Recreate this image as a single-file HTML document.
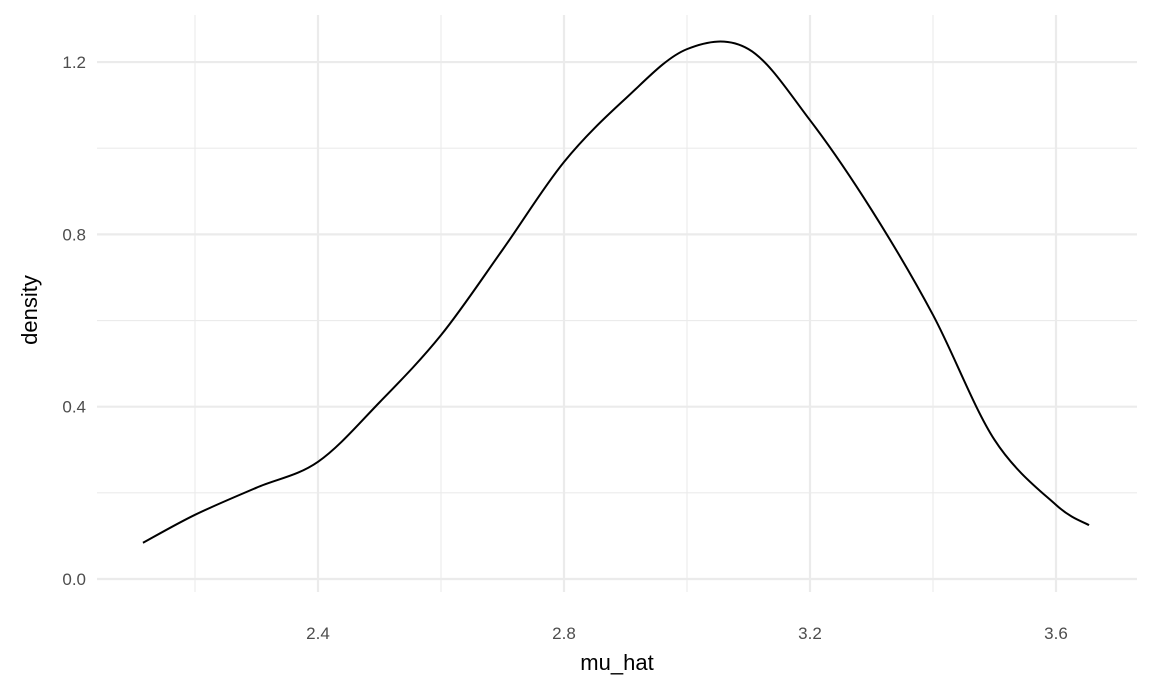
<!DOCTYPE html>
<html><head><meta charset="utf-8">
<style>
html,body{margin:0;padding:0;background:#fff;}
svg{display:block;font-family:"Liberation Sans",Arial,sans-serif;}
</style></head>
<body>
<svg id="chart" width="1152" height="691">
<g id="grid"></g>
<g id="ticks"></g>
<path id="curve" fill="none" stroke="#000" stroke-width="2"></path>
<text x="617" y="670" text-anchor="middle" font-size="22" fill="#000">mu_hat</text>
<text transform="translate(37,310) rotate(-90)" text-anchor="middle" font-size="22" fill="#000">density</text>
</svg>
<script>
const muHat = [2.1154, 2.2, 2.3, 2.4, 2.5, 2.6, 2.7, 2.8, 2.9, 3.0, 3.1, 3.2, 3.3, 3.4, 3.5, 3.6, 3.6537];
const density = [0.084, 0.149, 0.212, 0.272, 0.41, 0.566, 0.764, 0.968, 1.115, 1.23, 1.23, 1.065, 0.857, 0.613, 0.323, 0.172, 0.125];
const xTicks = [2.4, 2.8, 3.2, 3.6];
const xMinor = [2.2, 2.6, 3.0, 3.4];
const yTicks = [0.0, 0.4, 0.8, 1.2];
const yMinor = [0.2, 0.6, 1.0];
const xTickLabels = ["2.4", "2.8", "3.2", "3.6"];
const yTickLabels = ["0.0", "0.4", "0.8", "1.2"];

const X = v => 318 + (v - 2.4) * 615;
const Y = v => 579 - v * 430.8;
const L = 97, R = 1137, T = 15, B = 592;
const ns = "http://www.w3.org/2000/svg";
const grid = document.getElementById('grid');
const ticks = document.getElementById('ticks');
function line(x1,y1,x2,y2,w,name){
  const l=document.createElementNS(ns,'line');
  l.setAttribute('x1',x1);l.setAttribute('y1',y1);l.setAttribute('x2',x2);l.setAttribute('y2',y2);
  l.setAttribute('stroke','#ebebeb');l.setAttribute('stroke-width',w);
  
  
  grid.appendChild(l);
}
xMinor.forEach(v=>line(X(v),T,X(v),B,1.1,'x-minor-gridline'));
yMinor.forEach(v=>line(L,Y(v),R,Y(v),1.1,'y-minor-gridline'));
xTicks.forEach(v=>line(X(v),T,X(v),B,2.2,'x-major-gridline'));
yTicks.forEach(v=>line(L,Y(v),R,Y(v),2.2,'y-major-gridline'));
function label(x,y,txt,anchor,name){
  const t=document.createElementNS(ns,'text');
  t.setAttribute('x',x);t.setAttribute('y',y);t.setAttribute('text-anchor',anchor);
  t.setAttribute('font-size','17');t.setAttribute('fill','#4d4d4d');
  t.textContent=txt;
  
  
  ticks.appendChild(t);
}
xTicks.forEach((v,i)=>label(X(v),639,xTickLabels[i],'middle','x-tick-label'));
yTicks.forEach((v,i)=>label(86,Y(v)+6,yTickLabels[i],'end','y-tick-label'));

const pts = muHat.map((m,i)=>[X(m),Y(density[i])]);
let d = `M${pts[0][0]},${pts[0][1]}`;
for(let i=0;i<pts.length-1;i++){
  const p0=pts[Math.max(0,i-1)], p1=pts[i], p2=pts[i+1], p3=pts[Math.min(pts.length-1,i+2)];
  const c1=[p1[0]+(p2[0]-p0[0])/6, p1[1]+(p2[1]-p0[1])/6];
  const c2=[p2[0]-(p3[0]-p1[0])/6, p2[1]-(p3[1]-p1[1])/6];
  d+=` C${c1[0]},${c1[1]} ${c2[0]},${c2[1]} ${p2[0]},${p2[1]}`;
}
document.getElementById('curve').setAttribute('d',d);
</script>
</body></html>
